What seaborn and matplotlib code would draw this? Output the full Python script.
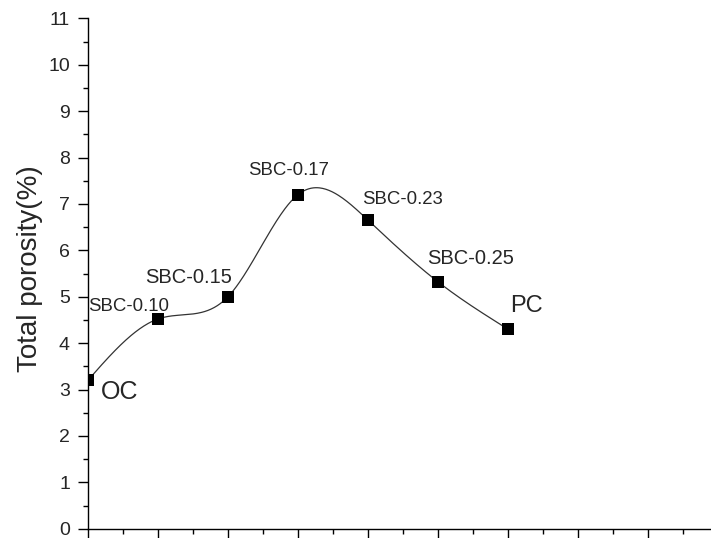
import numpy as np
import pandas as pd
import seaborn as sns
import matplotlib.pyplot as plt
from matplotlib.ticker import MultipleLocator, NullFormatter

# data
samples = ['OC', 'SBC-0.10', 'SBC-0.15', 'SBC-0.17', 'SBC-0.23', 'SBC-0.25', 'PC']
porosity = [3.2, 4.52, 5.0, 7.2, 6.65, 5.32, 4.3]

# label placement (pixels from each point) and font sizes
label_dx = [32, -29, -39, -9, 35, 33, 18]
label_dy = [-12, 12, 19, 24, 21, 23, 23]
label_size = [18, 13.4, 14.5, 13.4, 13.4, 14.5, 17]

df = pd.DataFrame({'sample': samples, 'pos': np.arange(len(samples)),
                   'porosity': porosity})


def natural_spline(x, y, n=400):
    # smooth curve through the points, like the origin spline connector
    x = np.asarray(x, float)
    y = np.asarray(y, float)
    k = len(x)
    h = np.diff(x)
    A = np.zeros((k, k))
    b = np.zeros(k)
    A[0, 0] = A[-1, -1] = 1
    for i in range(1, k - 1):
        A[i, i - 1] = h[i - 1]
        A[i, i] = 2 * (h[i - 1] + h[i])
        A[i, i + 1] = h[i]
        b[i] = 6 * ((y[i + 1] - y[i]) / h[i] - (y[i] - y[i - 1]) / h[i - 1])
    m = np.linalg.solve(A, b)
    xs = np.linspace(x[0], x[-1], n)
    idx = np.clip(np.searchsorted(x, xs) - 1, 0, k - 2)
    t = xs - x[idx]
    hi = h[idx]
    a = (m[idx + 1] - m[idx]) / (6 * hi)
    c = (y[idx + 1] - y[idx]) / hi - hi * (2 * m[idx] + m[idx + 1]) / 6
    ys = y[idx] + c * t + m[idx] / 2 * t ** 2 + a * t ** 3
    return xs, ys


sns.set_style('ticks')
plt.rcParams['font.family'] = ['Liberation Sans', 'DejaVu Sans']

fig = plt.figure(figsize=(7.11, 5.38), dpi=100)
ax = fig.add_axes([88 / 711, 9.3 / 538, 623 / 711, 510.4 / 538])

xs, ys = natural_spline(df['pos'], df['porosity'])
sns.lineplot(x=xs, y=ys, ax=ax, color='#333333', linewidth=0.9, sort=False)
sns.scatterplot(data=df, x='pos', y='porosity', ax=ax, marker='s', s=70,
                color='black', edgecolor='black', linewidth=0, zorder=3)

for i, row in df.iterrows():
    ax.annotate(row['sample'], (row['pos'], row['porosity']),
                xytext=(label_dx[i], label_dy[i]), textcoords='offset pixels',
                ha='center', va='center', fontsize=label_size[i])

ax.set_xlim(0, 623 / 70)
ax.set_ylim(0, 11)
ax.xaxis.set_major_locator(MultipleLocator(1))
ax.xaxis.set_minor_locator(MultipleLocator(0.5))
ax.yaxis.set_major_locator(MultipleLocator(1))
ax.yaxis.set_minor_locator(MultipleLocator(0.5))
ax.xaxis.set_major_formatter(NullFormatter())

ax.tick_params(which='major', direction='out', length=7, width=1,
               labelsize=14, pad=6, color='black')
ax.tick_params(which='minor', direction='out', length=3.8, width=1,
               color='black')
ax.set_xlabel('')
ax.set_ylabel('Total porosity(%)', fontsize=20)
ax.yaxis.set_label_coords(-0.072, 0.51)

sns.despine(ax=ax)
for side in ['left', 'bottom']:
    ax.spines[side].set_linewidth(1)
    ax.spines[side].set_color('black')

fig.savefig('out.png', dpi=100)
